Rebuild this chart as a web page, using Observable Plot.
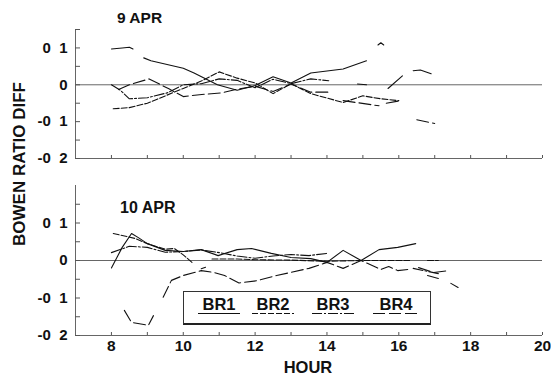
<!DOCTYPE html>
<html>
<head>
<meta charset="utf-8">
<script src="https://cdn.jsdelivr.net/npm/d3@7"></script>
<script src="https://cdn.jsdelivr.net/npm/@observablehq/plot@0.6"></script>
<style>
  body { margin: 0; background: #fff; }
  #chart { position: relative; width: 551px; height: 375px; font-family: "Liberation Sans", Arial, sans-serif; font-weight: bold; color: #111; overflow: hidden; }
  #chart svg { position: absolute; left: 0; }
  .txt { position: absolute; line-height: 1; white-space: nowrap; }
  #legend { position: absolute; left: 183px; top: 291px; width: 246px; height: 31px; border: 1px solid #333; border-bottom: 2px solid #222; background: #fff; }
  .lg { position: absolute; width: 60px; text-align: center; font-size: 16.5px; line-height: 1; top: 4px; }
</style>
</head>
<body>
<div id="chart"></div>
<script>
// Series labels (Bowen ratio sensor pairs)
const seriesNames = ["BR1", "BR2", "BR3", "BR4"];
const seriesDash = ["none", "6,2", "10,2,2,2", "12,4"];

// 9 APR — hour of day and Bowen ratio difference (null = missing data)
const hoursBR1_9 = [8.0, 8.3, 8.5, 8.6, 8.75, 8.9, 9.1, 10.0, 10.3, 10.95, 11.5, 12.0, 12.5, 13.0, 13.55, 14.45, 15.1, 15.3, 15.42, 15.5, 15.58, 15.65, 15.7, 16.1, 16.25, 16.4, 16.6, 16.9];
const diffBR1_9  = [0.097, 0.1, 0.102, 0.097, null, 0.073, 0.065, 0.045, 0.032, 0.0, -0.015, -0.002, 0.022, 0.005, 0.032, 0.043, 0.065, null, 0.108, 0.114, 0.108, null, -0.01, 0.024, null, 0.038, 0.04, 0.03];
const hoursBR2_9 = [8.05, 8.5, 9.0, 9.5, 10.0, 10.5, 11.0, 11.5, 12.0, 12.5, 13.0, 13.55, 14.45, 15.0, 15.5, 16.0];
const diffBR2_9  = [-0.065, -0.062, -0.05, -0.03, -0.01, 0.01, 0.035, 0.018, 0.005, -0.024, 0.003, -0.024, -0.048, -0.03, -0.038, -0.043];
const hoursBR3_9 = [8.0, 8.25, 8.5, 9.0, 9.55, 10.0, 10.5, 11.0, 11.5, 12.0, 12.5, 13.0, 13.55, 14.05, 14.3, 14.85, 15.1];
const diffBR3_9  = [0.0, -0.015, -0.038, -0.035, -0.022, 0.0, 0.003, 0.016, 0.012, -0.008, 0.015, 0.003, 0.016, 0.011, null, 0.002, 0.0];
const hoursBR4_9 = [8.2, 8.5, 9.05, 9.6, 10.0, 10.45, 11.05, 11.5, 12.0, 12.5, 13.0, 13.55, 14.05, 14.25, 14.45, 15.45, 15.55, 15.65, 16.05, 16.3, 16.5, 17.0];
const diffBR4_9  = [-0.013, 0.0, 0.016, -0.011, -0.032, -0.027, -0.022, -0.012, -0.004, -0.018, 0.002, -0.02, -0.02, null, -0.043, -0.057, null, -0.05, -0.043, null, -0.095, -0.105];

// 10 APR
const hoursBR1_10 = [8.0, 8.3, 8.56, 8.75, 9.0, 9.5, 10.0, 10.5, 10.97, 11.5, 11.9, 12.45, 13.0, 13.55, 14.0, 14.45, 14.95, 15.45, 15.97, 16.47, 16.6, 16.8, 17.1];
const diffBR1_10  = [-0.02, 0.035, 0.072, 0.061, 0.045, 0.027, 0.024, 0.029, 0.013, 0.029, 0.032, 0.019, 0.008, 0.005, -0.005, 0.027, 0.0, 0.029, 0.035, 0.045, null, -0.04, -0.048];
const hoursBR2_10 = [8.05, 8.65, 9.0, 9.5, 9.75, 10.0, 10.28, 10.4, 10.5, 10.62, 10.7, 10.8, 11.5, 12.0, 13.0, 14.0, 15.0, 16.3, 16.5, 16.8, 17.1];
const diffBR2_10  = [0.072, 0.059, 0.045, 0.03, 0.032, 0.015, -0.008, null, -0.022, -0.018, null, 0.004, 0.004, 0.002, 0.001, -0.002, 0.0, 0.0, null, 0.0, 0.0];
const hoursBR3_10 = [8.0, 8.33, 8.5, 9.0, 9.5, 10.0, 10.5, 11.0, 11.5, 12.0, 12.5, 13.0, 13.5, 14.0, 14.2, 16.4, 16.7, 17.1, 17.25, 17.45, 17.65];
const diffBR3_10  = [0.021, 0.032, 0.038, 0.035, 0.022, 0.024, 0.028, 0.021, 0.012, 0.006, 0.012, 0.016, 0.013, 0.019, null, -0.021, -0.027, -0.035, null, -0.061, -0.072];
const hoursBR4_10 = [8.36, 8.56, 9.03, 9.17, 9.3, 9.44, 9.67, 10.0, 10.5, 10.85, 11.15, 11.55, 12.05, 12.6, 13.5, 14.0, 14.45, 14.95, 15.5, 15.72, 15.97, 16.25, 16.4, 16.55, 16.97, 17.4];
const diffBR4_10  = [-0.133, -0.165, -0.173, -0.147, null, -0.098, -0.053, -0.04, -0.027, -0.032, -0.04, -0.06, -0.054, -0.04, -0.021, -0.005, -0.021, 0.0, -0.024, -0.016, -0.027, -0.024, null, -0.019, -0.032, -0.027];

// Axis ticks
const hourTicks = [8, 9, 10, 11, 12, 13, 14, 15, 16, 17, 18, 19, 20];
const hourLabels = [8, 10, 12, 14, 16, 18, 20];
const yLabelTicks = [-0.2, -0.1, 0, 0.1];
const yMinorTop = [-0.2, -0.15, -0.1, -0.05, 0, 0.05, 0.1, 0.15];
const yMinorBottom = [-0.2, -0.15, -0.1, -0.05, 0, 0.05, 0.1, 0.15];

const toRows = (name, hours, diffs) => hours.map((h, i) => ({series: name, hour: h, diff: diffs[i]}));
const day9 = [
  toRows("BR1", hoursBR1_9, diffBR1_9),
  toRows("BR2", hoursBR2_9, diffBR2_9),
  toRows("BR3", hoursBR3_9, diffBR3_9),
  toRows("BR4", hoursBR4_9, diffBR4_9)
];
const day10 = [
  toRows("BR1", hoursBR1_10, diffBR1_10),
  toRows("BR2", hoursBR2_10, diffBR2_10),
  toRows("BR3", hoursBR3_10, diffBR3_10),
  toRows("BR4", hoursBR4_10, diffBR4_10)
];

// Decimal tick labels as printed on the figure, e.g. "-0 1"
const fmtY = d => Math.abs(d) < 1e-9 ? "0" : (d < 0 ? "-" : "") + "0\u2007" + Math.round(Math.abs(d) * 10);

const W = 551, ML = 75, MR = 9;
const innerW = W - ML - MR;
const font = "'Liberation Sans', Arial, sans-serif";

function panel({height, marginTop, marginBottom, yDomain, yMinor, rows, xLabels}) {
  const innerH = height - marginTop - marginBottom;
  const marks = [
    Plot.ruleY([0], {stroke: "#666", strokeWidth: 1}),
    Plot.ruleY([yDomain[0]], {stroke: "#666", strokeWidth: 1}),
    Plot.ruleX([7], {y1: yDomain[0], y2: yDomain[1], stroke: "#666", strokeWidth: 1}),
    Plot.tickY(yMinor, {y: d => d, insetRight: innerW - 5, stroke: "#555"}),
    Plot.tickX(hourTicks, {x: d => d, insetTop: innerH - 3, stroke: "#555"}),
    Plot.axisY({ticks: yLabelTicks, tickSize: 0, tickPadding: 8, tickFormat: fmtY, fontSize: 15, fontWeight: "bold", label: null})
  ];
  if (xLabels) {
    marks.push(Plot.axisX({ticks: hourLabels, tickSize: 0, tickPadding: 4, fontSize: 15.5, fontWeight: "bold", label: null}));
  }
  rows.forEach((r, i) => {
    marks.push(Plot.line(r, {x: "hour", y: "diff", stroke: "#111", strokeWidth: 1.1, strokeDasharray: seriesDash[i]}));
  });
  return Plot.plot({
    width: W, height, marginLeft: ML, marginRight: MR, marginTop, marginBottom,
    x: {domain: [7, 20], axis: null},
    y: {domain: yDomain, axis: null},
    style: {fontFamily: font, fontWeight: "bold", color: "#111", background: "transparent", overflow: "visible"},
    marks
  });
}

const chart = document.getElementById("chart");

const topPlot = panel({height: 180, marginTop: 29, marginBottom: 22, yDomain: [-0.2, 0.15], yMinor: yMinorTop, rows: day9, xLabels: false});
topPlot.style.top = "0px";
chart.appendChild(topPlot);

const bottomPlot = panel({height: 195, marginTop: 5, marginBottom: 40, yDomain: [-0.2, 0.2], yMinor: yMinorBottom, rows: day10, xLabels: true});
bottomPlot.style.top = "180px";
chart.appendChild(bottomPlot);

// Text placed by baseline
function addText(str, left, baseline, size, extra = {}) {
  const el = document.createElement("div");
  el.className = "txt";
  el.textContent = str;
  el.style.fontSize = size + "px";
  el.style.left = left + "px";
  el.style.top = (baseline - 0.8465 * size) + "px";
  Object.assign(el.style, extra);
  chart.appendChild(el);
  return el;
}

addText("9 APR", 117, 23, 15.5);
addText("10 APR", 120, 214, 16);
const hourTitle = addText("HOUR", 308, 373, 16.5);
hourTitle.style.transform = "translateX(-50%)";

const yTitle = document.createElement("div");
yTitle.className = "txt";
yTitle.textContent = "BOWEN RATIO DIFF";
Object.assign(yTitle.style, {fontSize: "17px", left: "19px", top: "164px", transform: "translate(-50%, -50%) rotate(-90deg)"});
chart.appendChild(yTitle);

// Legend box
const legend = document.createElement("div");
legend.id = "legend";
chart.appendChild(legend);
const legendCenters = [35, 89, 149, 212];
const legendWidths = [42, 42, 42, 46];
seriesNames.forEach((name, i) => {
  const lab = document.createElement("div");
  lab.className = "lg";
  lab.textContent = name;
  lab.style.left = (legendCenters[i] - 30) + "px";
  legend.appendChild(lab);
});
const ns = "http://www.w3.org/2000/svg";
const lsvg = document.createElementNS(ns, "svg");
lsvg.setAttribute("width", 246);
lsvg.setAttribute("height", 31);
lsvg.style.position = "absolute";
lsvg.style.left = "0px";
lsvg.style.top = "0px";
seriesNames.forEach((name, i) => {
  const ln = document.createElementNS(ns, "line");
  ln.setAttribute("x1", legendCenters[i] - legendWidths[i] / 2);
  ln.setAttribute("x2", legendCenters[i] + legendWidths[i] / 2);
  ln.setAttribute("y1", 21.5);
  ln.setAttribute("y2", 21.5);
  ln.setAttribute("stroke", "#111");
  ln.setAttribute("stroke-width", 1.2);
  if (seriesDash[i] !== "none") ln.setAttribute("stroke-dasharray", seriesDash[i]);
  lsvg.appendChild(ln);
});
legend.appendChild(lsvg);
</script>
</body>
</html>
